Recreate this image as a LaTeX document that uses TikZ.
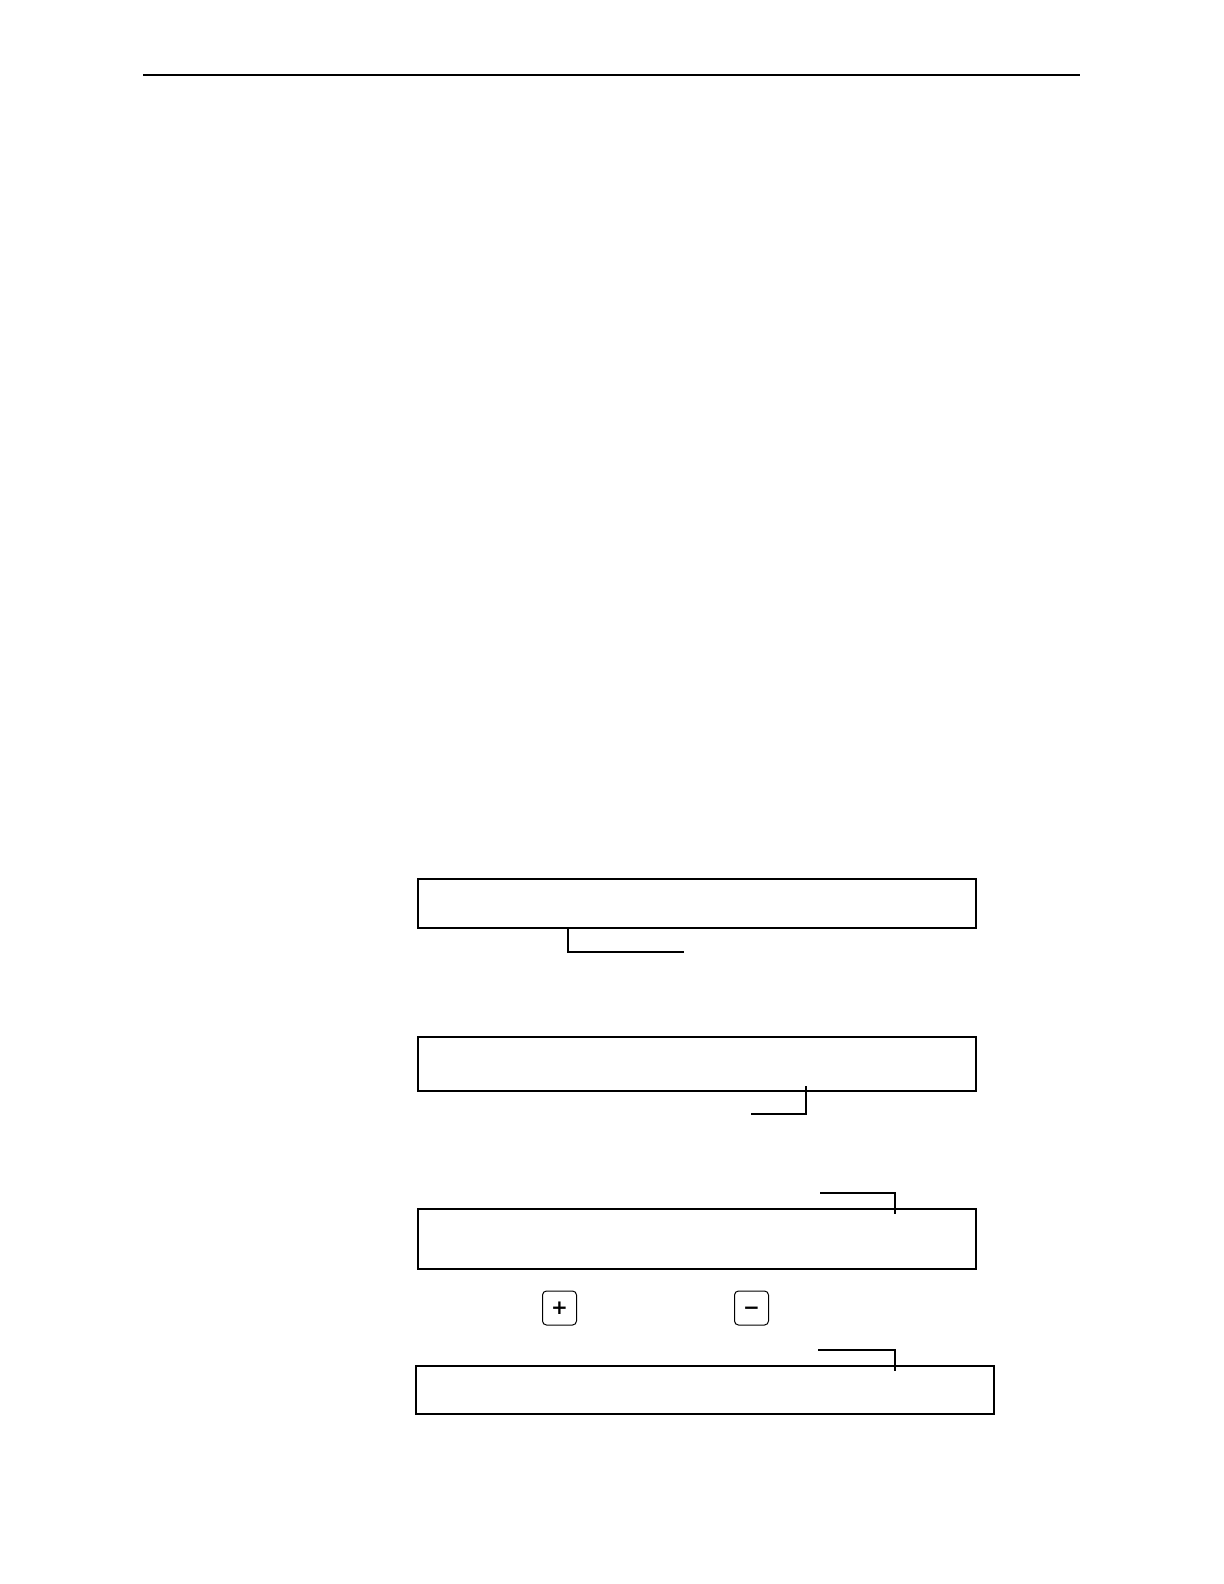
\documentclass[tikz,border=0pt]{standalone}
\usepackage{fontspec}
\usepackage{tikz}
\usetikzlibrary{positioning, calc}
\newfontfamily\keyfont{DejaVu Sans}

\begin{document}
\begin{tikzpicture}
            [x=0.5pt, y=-0.5pt, node distance=1cm, semithick,
            panel/.style={rectangle, draw=black, line width=0.55pt, inner sep=0pt, outer sep=0pt, anchor=north west},
            keycap/.style={rectangle, rounded corners=2pt, draw=black, line width=0.5pt, minimum size=17pt, inner sep=0pt,
                           text height=6pt, text depth=0pt,
                           font=\keyfont\bfseries\fontsize{10}{10}\selectfont},
            leader/.style={line width=0.55pt}]

            \useasboundingbox (0,0) rectangle (1224,1584);

            % head rule
            \coordinate (hl) at (143,75);
            \coordinate (hr) at (1080,75);
            \draw[line width=0.75pt] (hl) -- (hr);

            \node[panel, minimum width=279pt, minimum height=24.5pt] (p1) at (418,879) {};
            \node[panel, minimum width=279pt, minimum height=27pt] (p2) at (418,1037) {};
            \node[panel, minimum width=279pt, minimum height=30pt] (p3) at (418,1209) {};
            \node[panel, minimum width=289pt, minimum height=24pt] (p4) at (416,1366) {};

            \node[keycap] (plus) at (559.5,1308) {+};
            \node[keycap] (minus) [right = 78.5pt of plus] {−};

            \coordinate (l1) at (684,952);
            \coordinate (l2) at (751,1114);
            \coordinate (l3) at (820,1193);
            \coordinate (l4) at (818,1350);

            \draw[leader] ([xshift=75pt]p1.south west) |- (l1);
            \draw[leader] ([xshift=194pt,yshift=2.5pt]p2.south west) |- (l2);
            \draw[leader] (l3) -| ([xshift=238.5pt,yshift=-2.5pt]p3.north west);
            \draw[leader] (l4) -| ([xshift=239.5pt,yshift=-2.5pt]p4.north west);

\end{tikzpicture}
\end{document}
